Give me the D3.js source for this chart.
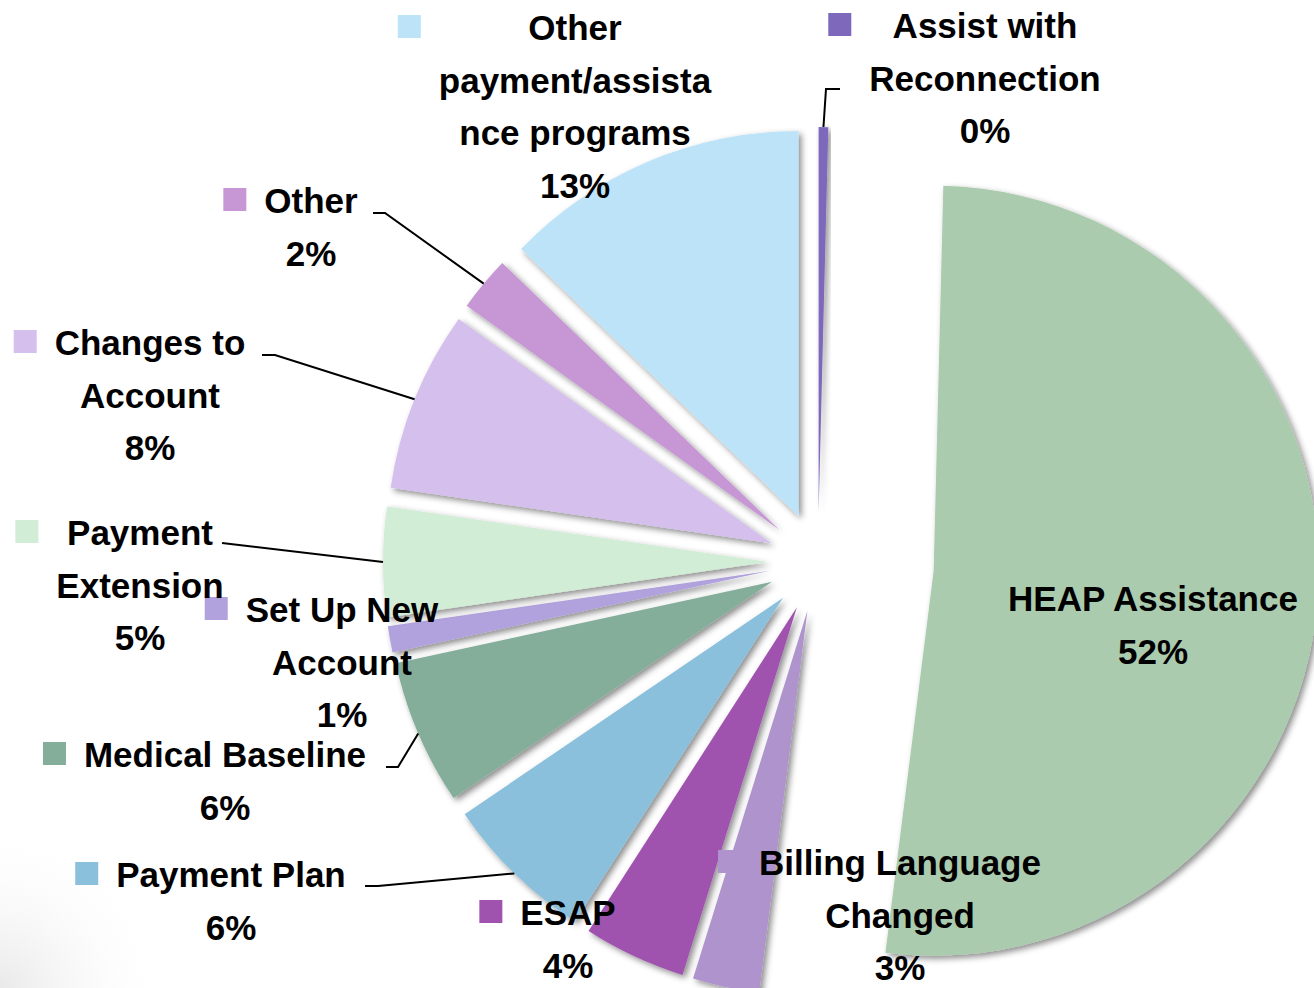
<!DOCTYPE html>
<html>
<head>
<meta charset="utf-8">
<script src="https://cdn.jsdelivr.net/npm/d3@7"></script>
<style>
  html, body { margin: 0; padding: 0; background: #fff; }
  svg text { font-family: "Liberation Sans", Arial, sans-serif; font-weight: bold; fill: #000; }
</style>
</head>
<body>
<div id="my_dataviz"></div>
<script>
// data, in the order the slices run clockwise from 12 o'clock
const categories = ["Assist with Reconnection", "HEAP Assistance", "Billing Language Changed", "ESAP",
  "Payment Plan", "Medical Baseline", "Set Up New Account", "Payment Extension",
  "Changes to Account", "Other", "Other payment/assistance programs"];
const values = [0.4, 51.6, 2.8, 4.3, 6.4, 6.1, 1.1, 4.6, 7.6, 2.3, 12.8];
const labelLines = [["Assist with", "Reconnection"], ["HEAP Assistance"], ["Billing Language", "Changed"], ["ESAP"],
  ["Payment Plan"], ["Medical Baseline"], ["Set Up New", "Account"], ["Payment", "Extension"],
  ["Changes to", "Account"], ["Other"], ["Other", "payment/assista", "nce programs"]];

const colors = ["#7d68bb", "#abcbae", "#af93cc", "#9f52ae", "#8bc0dc", "#84ad9a",
  "#b1a2dd", "#d2edd6", "#d5bfed", "#c797d5", "#bde3f9"];

// layout: explode distance per slice, label anchor (centre x, first baseline), leader elbow
const explode = [50, 116, 50, 50, 50, 50, 50, 50, 50, 50, 50];
const labelPos = [
  {x: 985, y: 38, leader: [[840, 89], [826, 89]]},
  {x: 1153, y: 611},
  {x: 900, y: 875},
  {x: 568, y: 925},
  {x: 231, y: 887, leader: [[365, 886], [378, 886]]},
  {x: 225, y: 767, leader: [[386, 767], [398, 767]]},
  {x: 342, y: 622},
  {x: 140, y: 545, leader: [[222, 543]]},
  {x: 150, y: 355, leader: [[262, 355], [275, 355]]},
  {x: 311, y: 213, leader: [[373, 213], [385, 213]]},
  {x: 575, y: 40}
];

const width = 1314, height = 988;
const cx = 818, cy = 562, radius = 385;
const lineH = 52.5, fontSize = 35, keySize = 23;

const svg = d3.select("#my_dataviz")
  .append("svg")
  .attr("width", width)
  .attr("height", height);

const defs = svg.append("defs");
defs.append("filter")
    .attr("id", "shadow")
    .attr("x", "-20%").attr("y", "-20%").attr("width", "140%").attr("height", "140%")
  .append("feDropShadow")
    .attr("dx", 3).attr("dy", 3)
    .attr("stdDeviation", 3)
    .attr("flood-color", "#000")
    .attr("flood-opacity", 0.45);

const bg = defs.append("radialGradient").attr("id", "corner")
  .attr("cx", 0).attr("cy", 1).attr("r", 1);
bg.append("stop").attr("offset", "0%").attr("stop-color", "#e9e9e9");
bg.append("stop").attr("offset", "100%").attr("stop-color", "#fff").attr("stop-opacity", 0);
svg.append("rect").attr("x", 0).attr("y", 820).attr("width", 170).attr("height", 168)
  .attr("fill", "url(#corner)");

const total = d3.sum(values);
const pie = d3.pie().sort(null).value(d => d);
const arcs = pie(values);
const arc = d3.arc().innerRadius(0).outerRadius(radius);

// unit direction of a slice's middle (0 rad = up, clockwise)
const dir = a => [Math.sin(a), -Math.cos(a)];
const tip = (d, i) => {
  const m = dir((d.startAngle + d.endAngle) / 2);
  return [cx + explode[i] * m[0], cy + explode[i] * m[1]];
};

const g = svg.append("g");
g.selectAll("path.slice")
  .data(arcs)
  .join("path")
    .attr("class", "slice")
    .attr("d", arc)
    .attr("transform", (d, i) => `translate(${tip(d, i)})`)
    .attr("fill", (d, i) => colors[i])
    .attr("filter", "url(#shadow)");

// leader lines: from the label elbow to the outer arc at the slice middle
arcs.forEach((d, i) => {
  const lp = labelPos[i];
  if (!lp.leader) return;
  const t = tip(d, i);
  const m = dir((d.startAngle + d.endAngle) / 2);
  const end = [t[0] + radius * m[0], t[1] + radius * m[1]];
  svg.append("path")
    .attr("d", d3.line()(lp.leader.concat([end])))
    .attr("fill", "none")
    .attr("stroke", "#000")
    .attr("stroke-width", 2);
});

// data labels with legend key
arcs.forEach((d, i) => {
  const lp = labelPos[i];
  const lines = labelLines[i].concat([Math.round(d.data / total * 100) + "%"]);
  const lg = svg.append("g");
  let maxW = 0;
  lines.forEach((s, k) => {
    const t = lg.append("text")
      .attr("x", lp.x)
      .attr("y", lp.y + k * lineH)
      .attr("text-anchor", "middle")
      .style("font-size", fontSize + "px")
      .text(s);
    maxW = Math.max(maxW, t.node().getComputedTextLength());
  });
  lg.insert("rect", "text")
    .attr("x", lp.x - maxW / 2 - 18 - keySize)
    .attr("y", lp.y - 25)
    .attr("width", keySize)
    .attr("height", keySize)
    .attr("fill", colors[i]);
});
</script>
</body>
</html>
